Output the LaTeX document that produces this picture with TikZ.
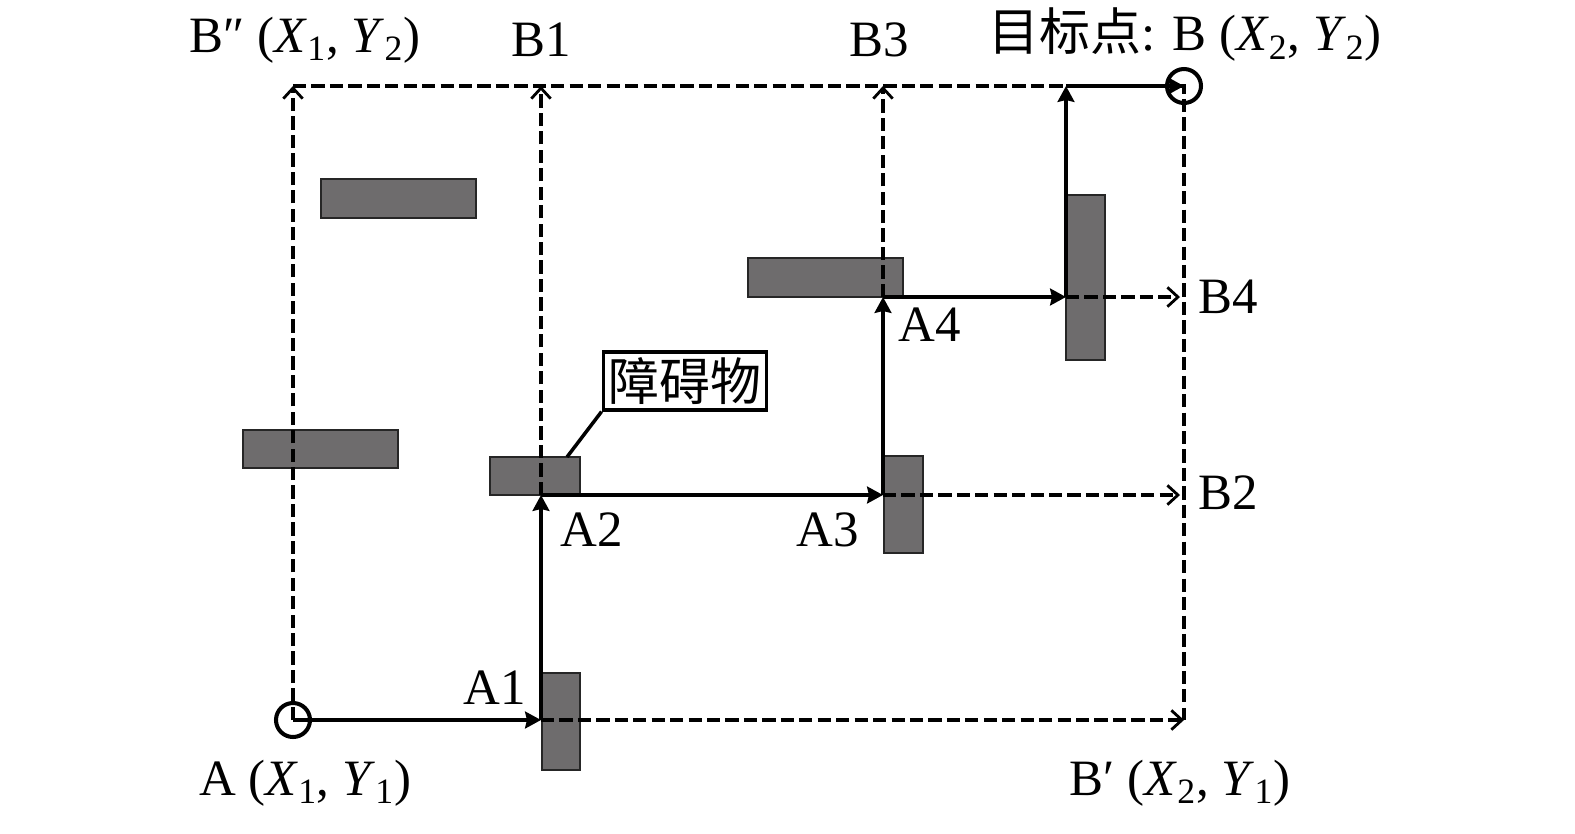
\documentclass[tikz,border=0pt]{standalone}
\usepackage{fontspec}
\setmainfont{Liberation Serif}
\newfontfamily\cjk{Noto Sans CJK SC}
\usetikzlibrary{arrows.meta}
\definecolor{obstgray}{HTML}{6E6C6D}
\newcommand{\crd}[2]{(\textit{X}\textsubscript{#1}, \textit{Y}\textsubscript{#2})}
\tikzset{
  route/.style={line width=2.3pt, -{Stealth[length=9pt,width=9.5pt,inset=1pt]}},
  probe/.style={line width=2pt, dash pattern=on 7.5pt off 3pt, -{Straight Barb[length=6pt,width=11pt,line width=1.6pt]}},
  border/.style={line width=2pt, dash pattern=on 7.5pt off 3pt},
  obst/.style={fill=obstgray, draw=black!85, line width=0.7pt},
  lbl/.style={font=\fontsize{29}{35}\selectfont, inner sep=0pt}
}
\begin{document}
\begin{tikzpicture}[x=0.02cm, y=-0.02cm]
\useasboundingbox (0,0) rectangle (1575,833);

% obstacles
\draw [obst] (321,179) rectangle (476,218);
\draw [obst] (243,430) rectangle (398,468);
\draw [obst] (490,457) rectangle (580,495);
\draw [obst] (542,673) rectangle (580,770);
\draw [obst] (884,456) rectangle (923,553);
\draw [obst] (748,258) rectangle (903,297);
\draw [obst] (1066,195) rectangle (1105,360);

% points
\coordinate (A) at (293,720);
\coordinate (B) at (1184,86);
\coordinate (Bpp) at (293,86);
\coordinate (Bp) at (1184,720);
\coordinate (A1) at (541,720);
\coordinate (A2) at (541,495);
\coordinate (A3) at (883,495);
\coordinate (A4) at (883,297);
\coordinate (A5) at (1066,297);
\coordinate (A6) at (1066,86);
\coordinate (B1) at (541,86);
\coordinate (B2) at (1180,495);
\coordinate (B3) at (883,86);
\coordinate (B4) at (1180,297);
\coordinate (tip) at (567,457);

% border of the search area
\draw [probe] (A) -- (Bpp);
\draw [border] (Bpp) -- (B) -- (Bp);

% probe lines
\draw [probe] (A1) -- (Bp);
\draw [probe] (A2) -- (B1);
\draw [probe] (A3) -- (B2);
\draw [probe] (A4) -- (B3);
\draw [probe] (A5) -- (B4);

% route
\draw [route] (A) -- (A1);
\draw [route] (A1) -- (A2);
\draw [route] (A2) -- (A3);
\draw [route] (A3) -- (A4);
\draw [route] (A4) -- (A5);
\draw [route] (A5) -- (A6);
\draw [route] (A6) -- (B);

\draw [line width=2.3pt] (A) circle (17);
\draw [line width=2.3pt] (B) circle (17);

% labels
\node [lbl] (lA) at (305,783) {A \crd{1}{1}};
\node [lbl] (lBp) at (1180,783) {B′ \crd{2}{1}};
\node [lbl] (lBpp) at (305,40) {B″ \crd{1}{2}};
\node [lbl] (lB) at (1185,35) {{\cjk 目标点}: B \crd{2}{2}};
\node [lbl] (lB1) at (541,40) {B1};
\node [lbl] (lB3) at (879,40) {B3};
\node [lbl] (lB2) at (1228,493) {B2};
\node [lbl] (lB4) at (1228,297) {B4};
\node [lbl] (lA1) at (495,688) {A1};
\node [lbl] (lA2) at (592,530) {A2};
\node [lbl] (lA3) at (828,530) {A3};
\node [lbl] (lA4) at (930,325) {A4};

\node [draw, line width=2pt, fill=white, font=\fontsize{29}{35}\selectfont\cjk, inner sep=3pt] (box) at (685,381) {障碍物};
\draw [line width=2pt] (box.south west) -- (tip);

\end{tikzpicture}
\end{document}
